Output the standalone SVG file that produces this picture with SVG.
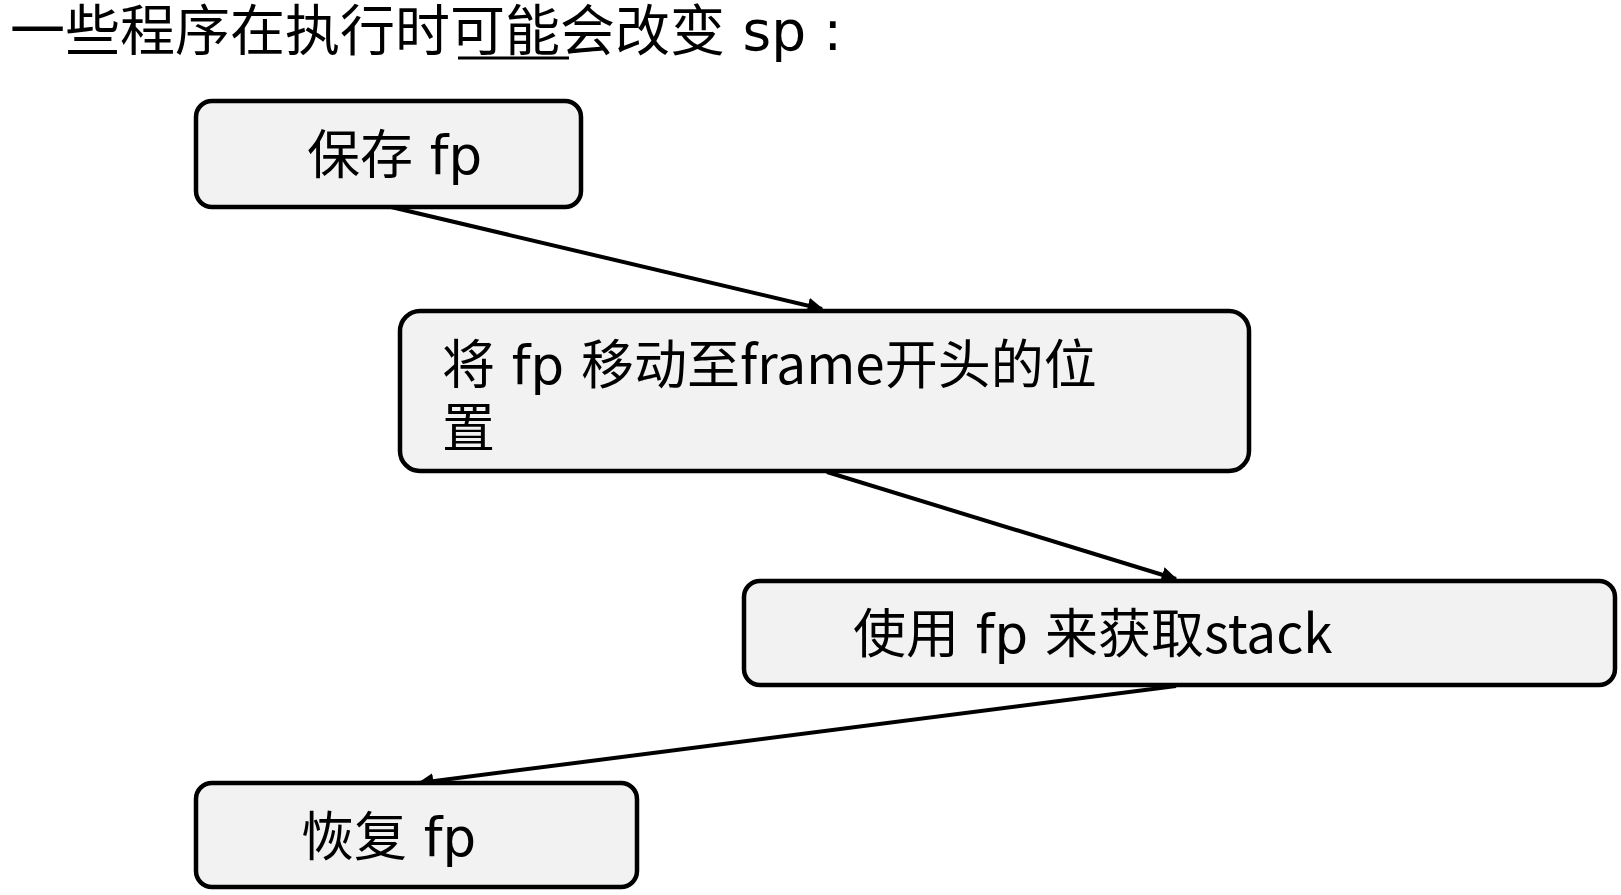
<svg xmlns="http://www.w3.org/2000/svg" width="1621" height="895" viewBox="0 0 1621 895">
<defs>
<style>
.t{font-family:"Noto Sans CJK SC","Noto Sans",sans-serif;fill:#000;}
.d{font-family:"DejaVu Sans","Noto Sans CJK SC",sans-serif;}
.box{fill:#f2f2f2;stroke:#000;stroke-width:4.5;}
.c{stroke:#000;stroke-width:4;fill:none;marker-end:url(#ah);}
</style>
<marker id="ah" viewBox="0 0 10 10" refX="9" refY="5" markerWidth="4" markerHeight="4" orient="auto" markerUnits="strokeWidth">
<path d="M0,0 L10,5 L0,10 z" fill="#000"/>
</marker>
</defs>
<rect width="1621" height="895" fill="#fff"/>
<g id="title">
<text class="t" x="10" y="50" font-size="55">一些程序在执行时可能会改变<tspan class="d"> sp :</tspan></text>
<line x1="458" y1="58" x2="569" y2="58" stroke="#000" stroke-width="3"/>
</g>
<g id="connectors">
<line class="c" x1="391" y1="207" x2="822" y2="309"/>
<line class="c" x1="827" y1="472" x2="1176" y2="579"/>
<line class="c" x1="1176" y1="686" x2="419" y2="783"/>
</g>
<g id="n1">
<rect class="box" x="196" y="101" width="385" height="106" rx="16"/>
<text class="t" x="307" y="174" font-size="53">保存<tspan class="d"> fp</tspan></text>
</g>
<g id="n2">
<rect class="box" x="400" y="311" width="849" height="160" rx="20"/>
<text class="t" x="442" y="384" font-size="53">将<tspan class="d"> fp </tspan>移动至frame开头的位</text>
<text class="t" x="442" y="447" font-size="53">置</text>
</g>
<g id="n3">
<rect class="box" x="744" y="581" width="871" height="104" rx="16"/>
<text class="t" x="853" y="653" font-size="53">使用<tspan class="d"> fp </tspan>来获取stack</text>
</g>
<g id="n4">
<rect class="box" x="196" y="783" width="441" height="104" rx="16"/>
<text class="t" x="301" y="856" font-size="53">恢复<tspan class="d"> fp</tspan></text>
</g>
</svg>
